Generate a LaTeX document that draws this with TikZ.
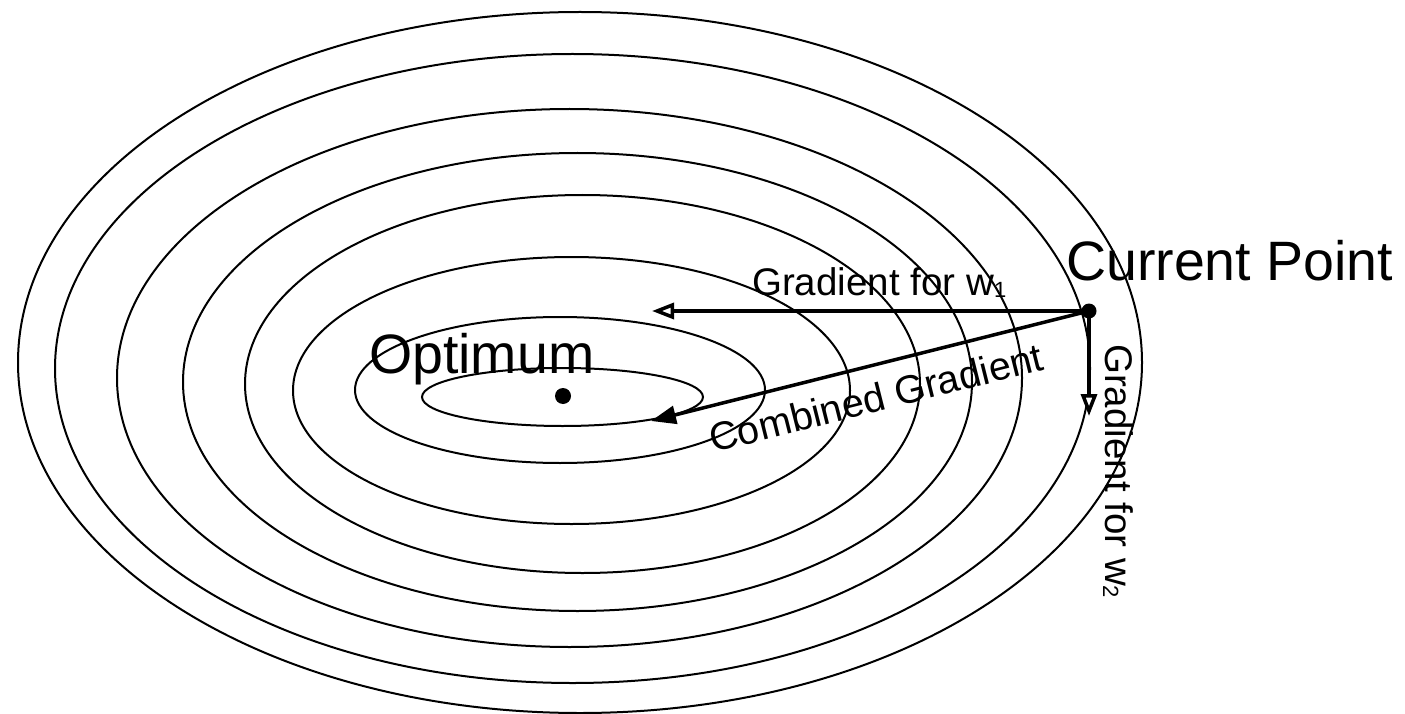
\documentclass[tikz,border=0pt]{standalone}
\usepackage{fontspec}
\setmainfont{Liberation Sans}
\usetikzlibrary{arrows.meta}
\begin{document}
\begin{tikzpicture}[x=1pt,y=-1pt,
  contour/.style={line width=2pt},
  vec/.style={line width=3.5pt},
  openhead/.style={-{Triangle[length=22pt,width=16pt,fill=white]}},
  fullhead/.style={-{Triangle[length=25pt,width=18pt]}},
  dot/.style={circle,fill=black,inner sep=0pt,minimum size=#1},
  big/.style={inner sep=0pt,font=\fontsize{55.5pt}{60pt}\selectfont},
  small/.style={inner sep=0pt,font=\fontsize{38.5pt}{42pt}\selectfont}
]
\useasboundingbox (0,0) rectangle (1405,714);
% contour lines
\draw[contour] (580,362.5) ellipse [x radius=562pt, y radius=350.5pt];
\draw[contour] (572.5,368.5) ellipse [x radius=517.5pt, y radius=314.5pt];
\draw[contour] (569.5,378) ellipse [x radius=452.5pt, y radius=269pt];
\draw[contour] (577.5,382) ellipse [x radius=394.5pt, y radius=229pt];
\draw[contour] (582.5,384) ellipse [x radius=337.5pt, y radius=189pt];
\draw[contour] (571.5,390.5) ellipse [x radius=278.5pt, y radius=133.5pt];
\draw[contour] (560,390) ellipse [x radius=205pt, y radius=73pt];
\draw[contour] (562.5,397) ellipse [x radius=140.5pt, y radius=29pt];
% points
\node[dot=16pt] (opt) at (563,396) {};
\node[dot=15pt] (cur) at (1089,311) {};
\coordinate (w1tip) at (652,311);
\coordinate (cgtip) at (651,421);
\coordinate (w2tip) at (1089,416);
% vectors
\draw[vec,openhead] (cur.center) -- (w1tip);
\draw[vec,fullhead] (cur.center) -- (cgtip);
\draw[vec,openhead] (cur.center) -- (w2tip);
% labels
\node[big,anchor=base west] (curlbl) at (1066,280) {Current Point};
\node[big,anchor=base west] (optlbl) at (369,373) {Optimum};
\node[small,anchor=base west] (w1lbl) at (752,295) {Gradient for w{\fontsize{22pt}{24pt}\selectfont\raisebox{-2pt}{1}}};
\node[small,anchor=base west,rotate=14.1,font=\fontsize{39.5pt}{43pt}\selectfont] (cglbl) at (713,453) {Combined Gradient};
\node[small,anchor=base west,rotate=-90] (w2lbl) at (1105,344) {Gradient for w{\fontsize{22pt}{24pt}\selectfont\raisebox{-2pt}{2}}};
\end{tikzpicture}
\end{document}
